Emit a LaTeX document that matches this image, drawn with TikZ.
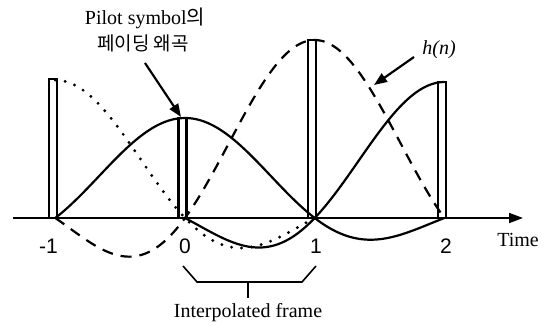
\documentclass[tikz,border=0pt]{standalone}
\usepackage{fontspec}
\setmainfont{Liberation Serif}
\newfontfamily\kofont{Noto Sans CJK KR}
\newfontfamily\digitfont{Liberation Sans}
\usetikzlibrary{arrows.meta}
\begin{document}
\begin{tikzpicture}[x=1pt,y=-1pt,
  declare function={sincf(\u)=sin(180*\u)/(pi*\u); X(\t)=185+129.7*\t;},
  curve/.style={line width=2.2pt},
  dashcurve/.style={line width=2.2pt, dash pattern=on 11pt off 8pt},
  dotcurve/.style={line width=3.2pt, line cap=round, dash pattern=on 0pt off 10pt},
  bar/.style={line width=1.6pt},
  lbl/.style={font=\fontsize{20}{22}\selectfont, inner sep=0pt},
  num/.style={font=\digitfont\fontsize{21}{22}\selectfont, inner sep=0pt},
  pointer/.style={line width=2.2pt, -{Triangle[length=13pt,width=10pt]}},
  axisline/.style={line width=1.6pt, -{Triangle[length=14pt,width=10pt]}}]
\useasboundingbox (0,0) rectangle (548,328);

% axis
\coordinate (axL) at (13,218);
\coordinate (axR) at (523,218);
\draw[axisline] (axL) -- (axR);

% pilot bars
\draw[bar] ({X(-1)-6.5},218) -- ({X(-1)-6.5},79) -- ({X(-1)+1.5},79) -- ({X(-1)+1.5},218);
\draw[bar,line width=2.2pt] ({X(0)-6.5},218) -- ({X(0)-6.5},118) -- ({X(0)+1.5},118) -- ({X(0)+1.5},218);
\draw[bar] ({X(1)-6.5},218) -- ({X(1)-6.5},40) -- ({X(1)+1.5},40) -- ({X(1)+1.5},218);
\draw[bar] ({X(2)-6.5},218) -- ({X(2)-6.5},82) -- ({X(2)+1.5},82) -- ({X(2)+1.5},218);

% h(n): sinc centred at 1
\draw[dashcurve] plot[domain=-1:2,samples=80,smooth] ({X(\x)},{218-178*sincf(\x-1)});
% solid: sinc centred at 0
\draw[curve] plot[domain=-1:2,samples=80,smooth] ({X(\x)},{218-100*sincf(\x)});
% solid: sinc centred at 2
\draw[curve] plot[domain=0:1.99,samples=70,smooth] ({X(\x)},{218-136*sincf(\x-2)}) -- ({X(2)},82);
% dotted: sinc centred at -1
\draw[dotcurve] ({X(-1)},80) -- plot[domain=-0.99:1,samples=70,smooth] ({X(\x)},{218-138*sincf(\x+1)});

% tick labels
\node[num] (tm1) at (48.5,246) {-1};
\node[num] (t0) at (185,246) {0};
\node[num] (t1) at (316,246) {1};
\node[num] (t2) at (446,246) {2};
\node[lbl] (time) at (518,240) {Time};

% pilot label
\node[lbl] (pilot1) at (145,18) {Pilot symbol{\kofont 의}};
\node[lbl,font=\kofont\fontsize{19}{22}\selectfont] (pilot2) at (143,43) {페이딩 왜곡};
\coordinate (pilotTip) at (181,117);
\coordinate (pilotTail) at (145,63);
\draw[pointer] (pilotTail) -- (pilotTip);

% h(n) label
\node[lbl] (hn) at (439,50) {\itshape h(n)};
\coordinate (hnTail) at (414,57);
\coordinate (hnTip) at (374,85);
\draw[pointer] (hnTail) -- (hnTip);

% interpolated frame bracket
\coordinate (b1) at (183,266);
\coordinate (b2) at (197,282);
\coordinate (b3) at (302,282);
\coordinate (b4) at (316,266);
\coordinate (bm) at (248,282);
\coordinate (bmEnd) at (248,298);
\draw[line width=1.6pt] (b1) -- (b2) -- (b3) -- (b4);
\draw[line width=1.6pt] (bm) -- (bmEnd);
\node[lbl] (interp) at (248,313) {Interpolated frame};
\end{tikzpicture}
\end{document}
